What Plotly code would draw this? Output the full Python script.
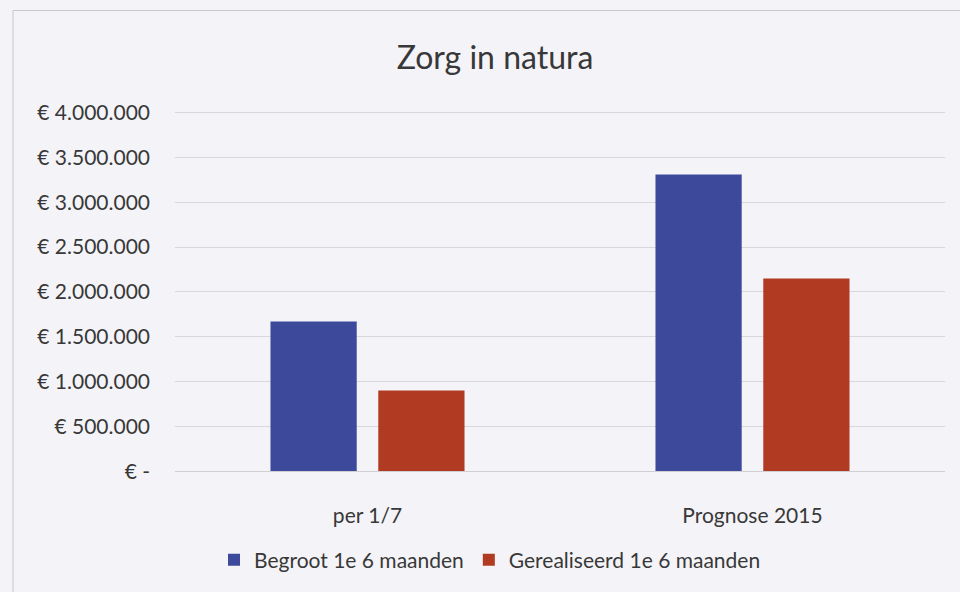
import plotly.graph_objects as go

categories = ["per 1/7", "Prognose 2015"]
begroot = [1670000, 3310000]
gerealiseerd = [900000, 2150000]
series_names = ["Begroot 1e 6 maanden", "Gerealiseerd 1e 6 maanden"]
tick_values = [0, 500000, 1000000, 1500000, 2000000, 2500000, 3000000, 3500000, 4000000]
tick_labels = ["€ -", "€ 500.000", "€ 1.000.000", "€ 1.500.000", "€ 2.000.000",
               "€ 2.500.000", "€ 3.000.000", "€ 3.500.000", "€ 4.000.000"]
title_text = "Zorg in natura"

FONT = "Lato"
TXT = "#383838"

fig = go.Figure()
fig.add_trace(go.Bar(x=categories, y=begroot, name=series_names[0],
                     marker=dict(color="#3d4a9c", line=dict(width=0))))
fig.add_trace(go.Bar(x=categories, y=gerealiseerd, name=series_names[1],
                     marker=dict(color="#b13b22", line=dict(width=0))))

L, R, T, B = 175, 15, 109, 119
W, H = 960, 592
pw = W - L - R
ph = H - T - B

fig.update_layout(
    width=W, height=H,
    margin=dict(l=L, r=R, t=T, b=B),
    paper_bgcolor="#f4f4f8",
    plot_bgcolor="#f4f4f8",
    barmode="group",
    bargap=0.44,
    bargroupgap=0.2,
    font=dict(family=FONT, color=TXT, size=21),
    title=dict(text=title_text, x=495 / W, xref="container", xanchor="center",
               y=1 - 58 / H, yref="container", yanchor="middle",
               font=dict(family=FONT, size=32, color=TXT)),
    legend=dict(orientation="h", xref="container", yref="container",
                x=490 / W, xanchor="center", y=1 - 560 / H, yanchor="middle",
                font=dict(family=FONT, size=21, color=TXT),
                itemwidth=30, tracegroupgap=0, bgcolor="rgba(0,0,0,0)"),
    showlegend=True,
)
fig.update_yaxes(range=[0, 4040000], tickvals=tick_values, ticktext=tick_labels,
                 showgrid=True, gridcolor="#d8d8dc", gridwidth=1,
                 zeroline=False, showline=False, ticks="",
                 ticklabelstandoff=24,
                 tickfont=dict(family=FONT, size=21, color=TXT))
fig.update_xaxes(showgrid=False, showline=True, linecolor="#d0d0d4", linewidth=1,
                 ticks="", ticklabelstandoff=26,
                 tickfont=dict(family=FONT, size=21, color=TXT))

# outer chart border
fig.add_shape(type="rect", xref="paper", yref="paper",
              x0=(13 - L) / pw, x1=(W + 10 - L) / pw,
              y0=-(H + 10 - (H - B)) / ph, y1=(H - B - 10) / ph,
              line=dict(color="#c8c8cc", width=1), fillcolor="rgba(0,0,0,0)", layer="below")

fig.write_html("out.html", config={"displayModeBar": False},
               post_script="document.body.style.margin='0';document.body.style.background='#f4f4f8';")
